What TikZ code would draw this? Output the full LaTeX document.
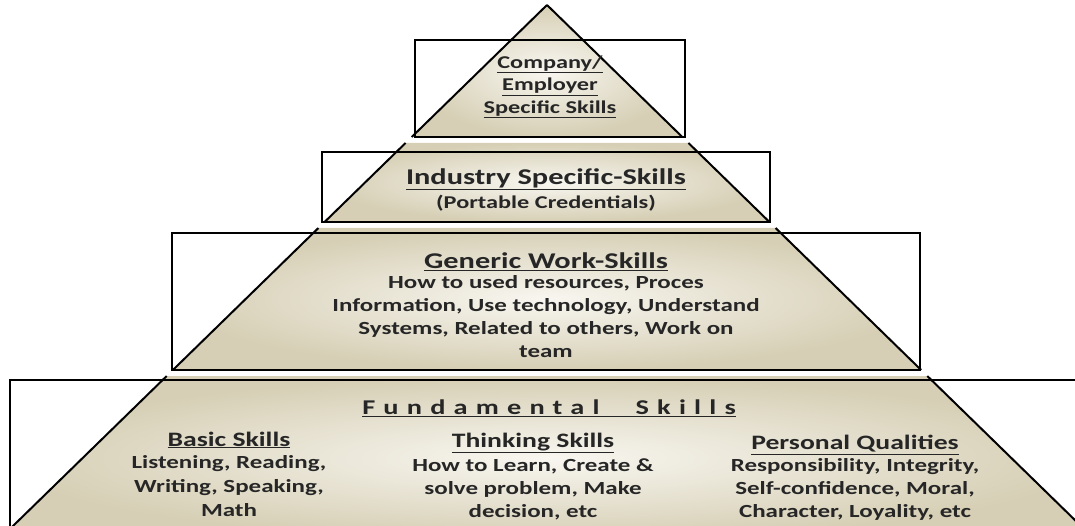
\documentclass[tikz,border=0pt]{standalone}
\usepackage{fontspec}
\setmainfont{Carlito}[FakeStretch=1.35]
\usetikzlibrary{positioning}

\definecolor{bandout}{RGB}{214,207,181}
\definecolor{bandin}{RGB}{248,246,240}
\definecolor{txt}{RGB}{38,38,38}

% one band of the pyramid: top y, bottom y
\newcommand{\pyrband}[2]{%
  \pgfmathsetmacro\hwt{(#1-5)*1.025}
  \pgfmathsetmacro\hwb{(#2-5)*1.025}
  \shade[band] (547-\hwt,#1) -- (547+\hwt,#1) -- (547+\hwb,#2) -- (547-\hwb,#2) -- cycle;
  \draw[edge] (547-\hwt,#1) -- (547-\hwb,#2) (547+\hwt,#1) -- (547+\hwb,#2);
}

\begin{document}
\begin{tikzpicture}[x=1pt,y=-1pt,
  band/.style={shading=radial,inner color=bandin,outer color=bandout},
  edge/.style={line width=2pt,black},
  box/.style={draw,line width=2.5pt,inner sep=0pt},
  title/.style={font=\bfseries\fontsize{22.5}{25}\selectfont,text=txt,align=center},
  coltitle/.style={font=\bfseries\fontsize{20.5}{25}\selectfont,text=txt,align=center},
  body/.style={font=\bfseries\fontsize{18.5}{23}\selectfont,text=txt,align=center},
  small/.style={font=\bfseries\fontsize{18}{22.5}\selectfont,text=txt,align=center}]

  \useasboundingbox (0,0) rectangle (1075,526);

  % the bands
  \pyrband{5}{137}
  \pyrband{143}{222}
  \pyrband{228}{370}
  \pyrband{376}{540}

  % the frames
  \node[box, minimum width=270pt, minimum height=97pt] (rcomp) at (550,88.5) {};
  \node[box, minimum width=448pt, minimum height=70pt] (rind) at (546,187) {};
  \node[box, minimum width=748pt, minimum height=137pt] (rgen) at (546,301.5) {};
  \node[box, line width=1.8pt, minimum width=1080pt, minimum height=160pt] (rfund) at (550,460) {};

  % company
  \node[small] (comp) at (550,87) {\underline{Company/}\\ \underline{Employer}\\ \underline{Specific Skills}};

  % industry
  \node[title] (ind) at (546,179) {\underline{Industry Specific-Skills}};
  \node[small] (indsub) at (546,203) {(Portable Credentials)};

  % generic
  \node[title] (gen) at (546,262) {\underline{Generic Work-Skills}};
  \node[body] (genbody) at (546,317) {How to used resources, Proces\\
    Information, Use technology, Understand\\ Systems, Related to others, Work on\\ team};

  % fundamental
  \node[title, font=\bfseries\fontsize{21}{25}\selectfont] (fund) at (549,408)
    {\underline{\addfontfeature{LetterSpace=39}Fundamental\hspace{36pt}Skills}};
  \node[coltitle] (basic) at (229,440) {\underline{Basic Skills}};
  \node[body, font=\bfseries\fontsize{18.5}{24}\selectfont] (basicbody) at (229,486)
    {Listening, Reading,\\ Writing, Speaking,\\ Math};
  \node[coltitle] (think) at (533,443) {\underline{Thinking Skills}};
  \node[body] (thinkbody) at (533,489) {How to Learn, Create \&\\ solve problem, Make\\ decision, etc};
  \node[coltitle] (pers) at (855,445) {\underline{Personal Qualities}};
  \node[body] (persbody) at (855,489) {Responsibility, Integrity,\\ Self-confidence, Moral,\\ Character, Loyality, etc};
\end{tikzpicture}
\end{document}
